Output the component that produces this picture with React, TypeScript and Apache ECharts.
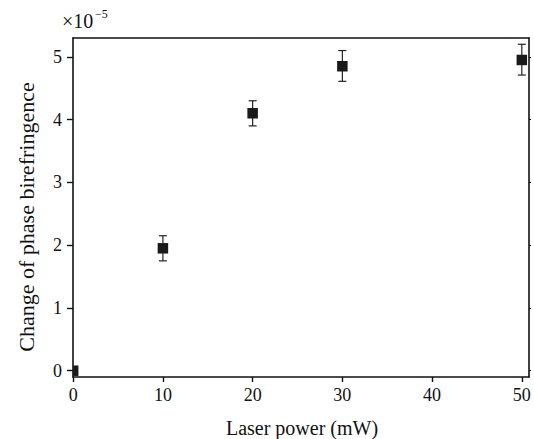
import React, { useEffect, useRef } from "react";
import * as echarts from "echarts";

const powers = [0, 10, 20, 30, 50];
const values = [0, 1.95, 4.1, 4.85, 4.95];
const errLow = [0, 1.75, 3.9, 4.61, 4.71];
const errHigh = [0, 2.15, 4.3, 5.1, 5.2];
const xTicks = [0, 10, 20, 30, 40, 50];
const yTicks = [0, 1, 2, 3, 4, 5];
const xTitle = "Laser power (mW)";
const yTitle = "Change of phase birefringence";
const scaleBase = "×10";
const scaleExp = "−5";

const FONT = "Liberation Serif";

export default function App() {
  const ref = useRef<HTMLDivElement>(null);
  useEffect(() => {
    document.body.style.margin = "0";
    const chart = echarts.init(ref.current!, null, { renderer: "svg" });
    const data = powers.map((p, i) => [p, values[i], errLow[i], errHigh[i]]);
    chart.setOption({
      animation: false,
      backgroundColor: "#ffffff",
      textStyle: { fontFamily: FONT },
      grid: { left: 73, right: 5, top: 38, bottom: 62 },
      xAxis: [
        {
          type: "value",
          min: -0.02,
          max: 50.8,
          axisLine: { show: true, onZero: false, lineStyle: { color: "#111", width: 1.6 } },
          axisTick: { show: true, inside: false, length: 5, customValues: xTicks, lineStyle: { color: "#111", width: 1.4 } },
          axisLabel: { customValues: xTicks, margin: 9, fontFamily: FONT, fontSize: 18, color: "#111" },
          splitLine: { show: false },
        },
        {
          type: "value",
          position: "top",
          min: -0.02,
          max: 50.8,
          axisLine: { show: true, onZero: false, lineStyle: { color: "#111", width: 1.6 } },
          axisTick: { show: false },
          axisLabel: { show: false },
          splitLine: { show: false },
        },
      ],
      yAxis: [
        {
          type: "value",
          min: -0.1,
          max: 5.3,
          axisLine: { show: true, onZero: false, lineStyle: { color: "#111", width: 1.6 } },
          axisTick: { show: true, inside: false, length: 6, customValues: yTicks, lineStyle: { color: "#111", width: 1.4 } },
          axisLabel: { customValues: yTicks, margin: 11, fontFamily: FONT, fontSize: 18, color: "#111" },
          splitLine: { show: false },
        },
        {
          type: "value",
          position: "right",
          min: -0.1,
          max: 5.3,
          axisLine: { show: true, onZero: false, lineStyle: { color: "#111", width: 1.6 } },
          axisTick: { show: true, inside: false, length: 2, customValues: yTicks, lineStyle: { color: "#111", width: 1.2 } },
          axisLabel: { show: false },
          splitLine: { show: false },
        },
      ],
      graphic: [
        {
          type: "text",
          x: 26,
          y: 217,
          rotation: Math.PI / 2,
          style: {
            text: yTitle,
            font: "22px 'Liberation Serif'",
            fill: "#111",
            align: "center",
            verticalAlign: "middle",
          },
        },
        {
          type: "text",
          x: 302,
          y: 428,
          style: {
            text: xTitle,
            font: "20px 'Liberation Serif'",
            fill: "#111",
            align: "center",
            verticalAlign: "middle",
          },
        },
        {
          type: "text",
          x: 62,
          y: 21,
          style: {
            text: scaleBase,
            font: "20px 'Liberation Serif'",
            fill: "#111",
            align: "left",
            verticalAlign: "middle",
          },
        },
        {
          type: "text",
          x: 95,
          y: 14,
          style: {
            text: scaleExp,
            font: "12px 'Liberation Serif'",
            fill: "#111",
            align: "left",
            verticalAlign: "middle",
          },
        },
      ],
      series: [
        {
          type: "custom",
          clip: true,
          xAxisIndex: 0,
          yAxisIndex: 0,
          data,
          renderItem: (params: any, api: any) => {
            const x = api.value(0);
            const y = api.value(1);
            const lo = api.value(2);
            const hi = api.value(3);
            const p = api.coord([x, y]);
            const pl = api.coord([x, lo]);
            const ph = api.coord([x, hi]);
            const children: any[] = [];
            const ls = { stroke: "#222", lineWidth: 1.2 };
            if (hi > lo) {
              children.push({ type: "line", shape: { x1: pl[0], y1: pl[1], x2: ph[0], y2: ph[1] }, style: ls });
              children.push({ type: "line", shape: { x1: pl[0] - 4, y1: pl[1], x2: pl[0] + 4, y2: pl[1] }, style: ls });
              children.push({ type: "line", shape: { x1: ph[0] - 4, y1: ph[1], x2: ph[0] + 4, y2: ph[1] }, style: ls });
            }
            const s = 10.5;
            children.push({ type: "rect", shape: { x: p[0] - s / 2, y: p[1] - s / 2, width: s, height: s }, style: { fill: "#1a1a1a" } });
            return { type: "group", children };
          },
        },
      ],
    });
    return () => chart.dispose();
  }, []);
  return <div ref={ref} style={{ width: 534, height: 439 }} />;
}
